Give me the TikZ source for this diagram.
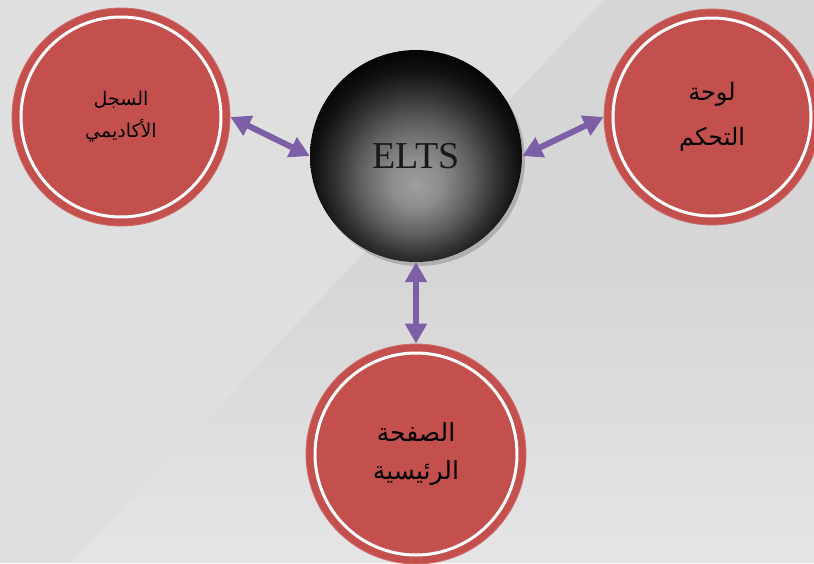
\documentclass[tikz,border=0pt]{standalone}
\usepackage{fontspec}
\usepackage{tikz}
\usetikzlibrary{arrows.meta,shadows}
\usetikzlibrary{backgrounds}
\usetikzlibrary{calc}
\setmainfont{Liberation Serif}
\newfontfamily\arabicfont[Script=Arabic]{DejaVu Sans}
\TeXXeTstate=1

\definecolor{redfill}{HTML}{C4504E}
\definecolor{linkcol}{HTML}{7D5FA8}
\definecolor{bgA}{HTML}{DFDFDF}
\definecolor{bgB}{HTML}{D6D6D6}
\definecolor{bgC}{HTML}{E5E5E5}

% the inner 25bp is the circle itself
\pgfdeclareradialshading{hubshade}{\pgfpoint{0bp}{-7bp}}{%
  color(0bp)=(black!38); color(6bp)=(black!45); color(13bp)=(black!62);
  color(19bp)=(black!80); color(24bp)=(black!93); color(29bp)=(black);
  color(50bp)=(black)}

\begin{document}
\begin{tikzpicture}[x=1pt,y=-1pt,
        redball/.style={circle,inner sep=0pt,minimum size=2*#1pt,fill=redfill,
          draw=redfill!85!white,line width=0.8pt,
          font=\arabicfont\fontsize{19}{32}\selectfont,text=black,align=center,
          path picture={\draw[white,line width=3pt]
            (path picture bounding box.center) circle ({#1-9});}},
        hub/.style={circle,inner sep=0pt,minimum size=212pt,shading=hubshade,
          drop shadow={shadow xshift=3pt,shadow yshift=-4pt,opacity=0.45},
          font=\fontsize{38}{40}\selectfont,text=black!90},
        link/.style={{Triangle[length=20pt,width=21pt,fill=linkcol]}-{Triangle[length=20pt,width=21pt,fill=linkcol]},
          line width=6pt,draw=linkcol}]

        \useasboundingbox (0,0) rectangle (814,563);

        \node [hub]          (elts)  at (416,156) {ELTS};
        \node [redball=109]  (rec)   at (121,117)
          {\beginR السجل\endR\\\beginR الأكاديمي\endR};
        \node [redball=108, font=\arabicfont\fontsize{24}{45}\selectfont]
                             (dash)  at (712,117)
          {\beginR لوحة\endR\\\beginR التحكم\endR};
        \node [redball=110, font=\arabicfont\fontsize{25}{38}\selectfont]
                             (home)  at (416,454)
          {\beginR الصفحة\endR\\\beginR الرئيسية\endR};

        \draw [link] (rec.east)   -- (elts.west);
        \draw [link] (elts.east)  -- (dash.west);
        \draw [link] (elts.south) -- (home.north);

        \begin{pgfonlayer}{background}
          \fill [bgA] (0,0) rectangle (814,563);
          \shade [top color=bgB,bottom color=bgC,middle color=bgB]
            (604,0) -- (814,0) -- (814,563) -- (70,563) -- cycle;
        \end{pgfonlayer}
      \end{tikzpicture}
\end{document}
